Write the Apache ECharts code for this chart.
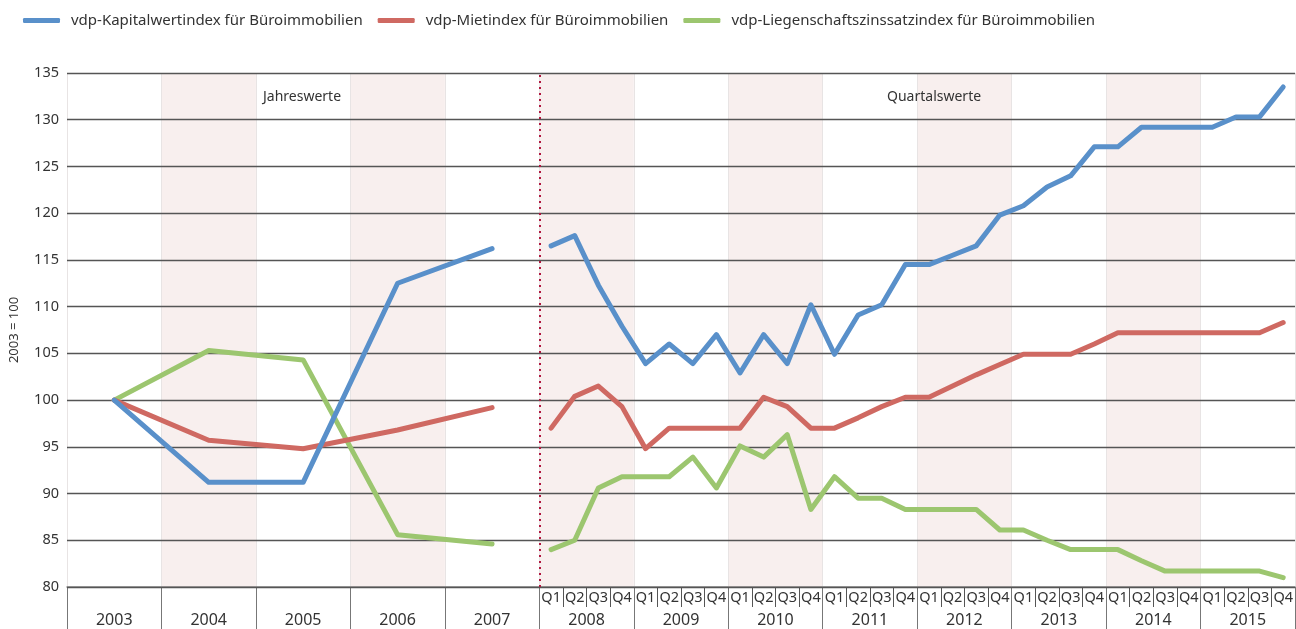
<!DOCTYPE html>
<html>
<head>
<meta charset="utf-8">
<title>vdp Büroimmobilien</title>
<script src="https://cdn.jsdelivr.net/npm/echarts@6/dist/echarts.min.js"></script>
<style>
html, body { margin: 0; padding: 0; background: #fff; }
#main { width: 1296px; height: 629px; }
</style>
</head>
<body>
<div id="main"></div>
<script>
// Jahre (Achse unten) und Quartale
var years = ['2003', '2004', '2005', '2006', '2007', '2008', '2009', '2010', '2011', '2012', '2013', '2014', '2015'];
var quarters = ['Q1', 'Q2', 'Q3', 'Q4'];
var annualYears = 5;      // 2003-2007 Jahreswerte
var quarterYears = 8;     // 2008-2015 Quartalswerte

// Jahreswerte 2003-2007
var kapitalJahr = [100, 91.2, 91.2, 112.5, 116.2];
var mieteJahr   = [100, 95.7, 94.8, 96.8, 99.2];
var zinsJahr    = [100, 105.3, 104.3, 85.6, 84.6];

// Quartalswerte 2008 Q1 - 2015 Q4
var kapitalQuartal = [116.5, 117.6, 112.3, 107.9, 103.9, 106, 103.9, 107,
                      102.9, 107, 103.9, 110.2, 104.9, 109.1, 110.2, 114.5,
                      114.5, 115.5, 116.5, 119.8, 120.8, 122.8, 124, 127.1,
                      127.1, 129.2, 129.2, 129.2, 129.2, 130.3, 130.3, 133.5];
var mieteQuartal = [97, 100.4, 101.5, 99.3, 94.8, 97, 97, 97,
                    97, 100.3, 99.3, 97, 97, 98.1, 99.3, 100.3,
                    100.3, 101.5, 102.7, 103.8, 104.9, 104.9, 104.9, 106,
                    107.2, 107.2, 107.2, 107.2, 107.2, 107.2, 107.2, 108.3];
var zinsQuartal = [84, 85, 90.6, 91.8, 91.8, 91.8, 93.9, 90.6,
                   95.1, 93.9, 96.3, 88.3, 91.8, 89.5, 89.5, 88.3,
                   88.3, 88.3, 88.3, 86.1, 86.1, 85, 84, 84,
                   84, 82.8, 81.7, 81.7, 81.7, 81.7, 81.7, 81];

var seriesNames = ['vdp-Kapitalwertindex für Büroimmobilien', 'vdp-Mietindex für Büroimmobilien', 'vdp-Liegenschaftszinssatzindex für Büroimmobilien'];
var colors = ['#5990ca', '#cf6962', '#9cc66f'];

// ein Jahr = 4 Slots auf der x-Achse
var slots = (annualYears + quarterYears) * 4;
var quarterSlots = [];
for (var i = 0; i < slots; i++) {
    quarterSlots.push(i < annualYears * 4 ? '' : quarters[i % 4]);
}

function annualData(vals) {
    return vals.map(function (v, i) { return [i * 4 + 2, v]; });
}
function quarterData(vals) {
    return vals.map(function (v, i) { return [annualYears * 4 + i + 0.5, v]; });
}

var lineStyle = function (c) {
    return { width: 5, color: c, cap: 'round', join: 'round' };
};

var series = [];
[[kapitalJahr, kapitalQuartal], [mieteJahr, mieteQuartal], [zinsJahr, zinsQuartal]].forEach(function (pair, k) {
    series.push({
        name: seriesNames[k], type: 'line', xAxisIndex: 0, data: annualData(pair[0]),
        symbol: 'none', color: colors[k], lineStyle: lineStyle(colors[k]), z: 5 - k
    });
    series.push({
        name: seriesNames[k], type: 'line', xAxisIndex: 0, data: quarterData(pair[1]),
        symbol: 'none', color: colors[k], lineStyle: lineStyle(colors[k]), z: 5 - k
    });
});
// Trennlinie Jahres-/Quartalswerte
series[0].markLine = {
    silent: true, symbol: 'none', label: { show: false },
    lineStyle: { color: '#b0173f', type: [2, 4], width: 2 },
    data: [{ xAxis: annualYears * 4 }]
};

var font = 'Noto Sans';
var myChart = echarts.init(document.getElementById('main'));
var option = {
    animation: false,
    textStyle: { fontFamily: font },
    legend: {
        left: 18, top: 8,
        data: seriesNames,
        icon: 'roundRect', itemWidth: 37, itemHeight: 5, itemGap: 15,
        textStyle: { fontSize: 15, color: '#333', fontFamily: font, padding: [0, 0, 0, 6] }
    },
    grid: { left: 67, right: 1, top: 73, bottom: 42 },
    xAxis: [{
        type: 'value', min: 0, max: slots, show: false
    }, {
        type: 'category', data: quarterSlots, position: 'bottom',
        axisLine: { show: true, lineStyle: { color: '#888', width: 1.5 } },
        axisTick: {
            show: true, length: 20, lineStyle: { color: '#555' },
            interval: function (i) { return i >= annualYears * 4; }
        },
        axisLabel: { interval: 0, margin: 3, fontSize: 14.5, color: '#333', fontFamily: font },
        splitLine: { show: false }
    }, {
        type: 'category', data: years, position: 'bottom', z: 0,
        axisLine: { show: false },
        axisTick: { show: true, length: 42, lineStyle: { color: '#777' } },
        axisLabel: { interval: 0, margin: 25, fontSize: 16, color: '#333', fontFamily: font },
        splitArea: { show: true, areaStyle: { color: ['rgba(255,255,255,0)', '#f8efee'] } },
        splitLine: { show: true, lineStyle: { color: '#e8e4e4', width: 1 } }
    }],
    yAxis: {
        type: 'value', min: 80, max: 135, interval: 5, z: 2,
        name: '2003 = 100', nameLocation: 'middle', nameGap: 46, nameRotate: 90,
        nameTextStyle: { fontSize: 13, color: '#333', fontFamily: font },
        axisLine: { show: false }, axisTick: { show: false },
        axisLabel: { margin: 8, fontSize: 14.5, color: '#333', fontFamily: font },
        splitLine: { lineStyle: { color: '#555', width: 1.3 } }
    },
    graphic: [
        { type: 'text', z: 20, left: 263, top: 90, style: { text: 'Jahreswerte', fontSize: 14, fill: '#333', fontFamily: font } },
        { type: 'text', z: 20, left: 887, top: 90, style: { text: 'Quartalswerte', fontSize: 14, fill: '#333', fontFamily: font } }
    ],
    series: series
};
myChart.setOption(option);
</script>
</body>
</html>
